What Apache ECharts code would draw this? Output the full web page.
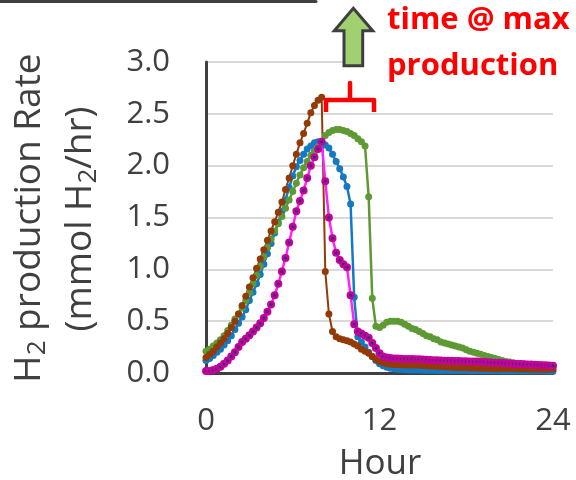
<!DOCTYPE html>
<html>
<head>
<meta charset="utf-8">
<script src="https://cdn.jsdelivr.net/npm/echarts@6/dist/echarts.min.js"></script>
<style>html,body{margin:0;padding:0;background:#fff}#c{width:576px;height:480px}</style>
</head>
<body>
<div id="c"></div>
<script>
const hours = [0,0.25,0.5,0.75,1,1.25,1.5,1.75,2,2.25,2.5,2.75,3,3.25,3.5,3.75,4,4.25,4.5,4.75,5,5.25,5.5,5.75,6,6.25,6.5,6.75,7,7.25,7.5,7.75,8,8.25,8.5,8.75,9,9.25,9.5,9.75,10,10.25,10.5,10.75,11,11.25,11.5,11.75,12,12.25,12.5,12.75,13,13.25,13.5,13.75,14,14.25,14.5,14.75,15,15.25,15.5,15.75,16,16.25,16.5,16.75,17,17.25,17.5,17.75,18,18.25,18.5,18.75,19,19.25,19.5,19.75,20,20.25,20.5,20.75,21,21.25,21.5,21.75,22,22.25,22.5,22.75,23,23.25,23.5,23.75,24];

const blueSeries = [0.12,0.14,0.17,0.20,0.23,0.27,0.31,0.36,0.42,
0.48,0.54,0.61,0.70,0.78,0.86,0.95,1.05,
1.15,1.25,1.35,1.45,1.56,1.67,1.79,1.90,
1.99,2.05,2.11,2.16,2.19,2.22,2.23,2.22,
2.20,2.17,2.11,2.04,1.97,1.89,1.80,1.63,
0.73,0.35,0.30,0.25,0.20,0.16,0.12,0.09,
0.07,0.055,0.045,0.04,0.035,0.033,0.031,0.03,
0.029,0.028,0.028,0.027,0.027,0.026,0.026,0.025,
0.025,0.025,0.024,0.024,0.024,0.023,0.023,0.023,
0.022,0.022,0.022,0.022,0.021,0.021,0.021,0.021,
0.021,0.02,0.02,0.02,0.02,0.02,0.02,0.02,
0.02,0.02,0.019,0.019,0.019,0.019,0.018,0.018];

const greenSeries = [0.21,0.23,0.26,0.29,0.32,0.36,0.41,0.46,0.52,
0.57,0.63,0.70,0.78,0.86,0.94,1.03,1.12,
1.21,1.29,1.37,1.44,1.51,1.59,1.67,1.75,
1.83,1.91,1.98,2.04,2.10,2.14,2.18,2.23,
2.29,2.32,2.34,2.35,2.35,2.34,2.33,2.31,
2.29,2.26,2.23,2.19,1.70,0.72,0.45,0.44,
0.46,0.49,0.50,0.50,0.50,0.49,0.47,0.45,
0.43,0.42,0.40,0.38,0.36,0.35,0.33,0.32,
0.30,0.29,0.28,0.27,0.26,0.25,0.24,0.225,
0.21,0.20,0.19,0.18,0.17,0.16,0.15,0.14,
0.13,0.12,0.11,0.105,0.10,0.095,0.09,0.088,
0.085,0.082,0.08,0.078,0.076,0.074,0.072,0.07];

const brownSeries = [0.15,0.18,0.21,0.25,0.29,0.33,0.38,0.44,0.50,
0.57,0.65,0.74,0.83,0.92,1.01,1.10,1.19,
1.28,1.37,1.46,1.55,1.65,1.77,1.88,2.00,
2.11,2.22,2.31,2.41,2.51,2.58,2.63,2.66,
0.98,0.57,0.40,0.35,0.33,0.32,0.31,0.30,
0.28,0.26,0.23,0.21,0.19,0.16,0.13,0.11,
0.10,0.09,0.085,0.082,0.08,0.079,0.078,0.077,
0.076,0.075,0.074,0.072,0.07,0.068,0.066,0.064,
0.062,0.06,0.058,0.056,0.054,0.052,0.051,0.05,
0.049,0.048,0.047,0.046,0.045,0.044,0.043,0.042,
0.042,0.041,0.041,0.04,0.04,0.039,0.039,0.038,
0.038,0.037,0.037,0.036,0.036,0.036,0.035,0.035];

const magentaSeries = [0.02,0.02,0.03,0.04,0.06,0.09,0.12,0.16,0.20,
0.25,0.30,0.33,0.365,0.40,0.44,0.48,0.53,
0.59,0.66,0.75,0.86,0.98,1.11,1.26,1.41,
1.56,1.66,1.76,1.88,2.00,2.08,2.16,2.23,
1.85,1.50,1.30,1.16,1.09,1.05,1.02,0.75,
0.47,0.40,0.38,0.36,0.34,0.29,0.24,0.19,
0.16,0.15,0.145,0.14,0.14,0.138,0.136,0.135,
0.134,0.133,0.132,0.13,0.128,0.126,0.124,0.122,
0.12,0.119,0.118,0.117,0.116,0.115,0.114,0.113,
0.112,0.111,0.11,0.108,0.106,0.104,0.102,0.10,
0.098,0.096,0.094,0.092,0.09,0.088,0.086,0.085,
0.083,0.081,0.079,0.077,0.075,0.074,0.072,0.07];

const xTicks = [0, 12, 24];
const yTicks = [0.0, 0.5, 1.0, 1.5, 2.0, 2.5, 3.0];

const FONT = '"Open Sans", sans-serif';
const TXT = '#404040';

function pairs(vals){ return hours.map((h,i)=>[h, vals[i]]); }

const chart = echarts.init(document.getElementById('c'), null, {renderer:'canvas'});

function mk(name, vals, lineColor, itemStyle, size, lw){
  return {
    name, type:'line', data: pairs(vals), symbol:'circle', symbolSize:size,
    showSymbol:true, showAllSymbol:true, animation:false,
    lineStyle:{color:lineColor, width:lw}, itemStyle, emphasis:{disabled:true}
  };
}

chart.setOption({
  animation:false,
  grid:{left:206, right:23, top:62, bottom:107, containLabel:false},
  xAxis:{
    type:'value', min:xTicks[0], max:xTicks[xTicks.length-1], interval:12,
    axisLine:{show:true, onZero:false, lineStyle:{color:'#404040', width:3}},
    axisTick:{show:false}, splitLine:{show:false},
    axisLabel:{fontSize:31, fontFamily:FONT, color:TXT, margin:33}
  },
  yAxis:{
    type:'value', min:yTicks[0], max:yTicks[yTicks.length-1], interval:0.5,
    axisLine:{show:true, lineStyle:{color:'#404040', width:3}},
    axisTick:{show:false},
    splitLine:{show:true, lineStyle:{color:'#d9d9d9', width:2}},
    axisLabel:{fontSize:31, fontFamily:FONT, color:TXT, margin:36, formatter:v=>v.toFixed(1)}
  },
  series:[
    mk('blue', blueSeries, '#1479c2', {color:'#1479c2'}, 7, 2.5),
    mk('green', greenSeries, '#5e9a34', {color:'#5e9a34'}, 7, 2.5),
    mk('brown', brownSeries, '#933a06', {color:'#933a06'}, 7, 2),
    mk('magenta', magentaSeries, '#ff22ff', {color:'#1f3c78', borderColor:'#c8009a', borderWidth:2.5}, 5.5, 2.5)
  ],
  graphic:[
    {type:'rect', z:10, shape:{x:364, y:0, width:212, height:86}, style:{fill:'#ffffff'}},
    {type:'line', z:10, shape:{x1:0,y1:1.5,x2:316,y2:1.5}, style:{stroke:'#404040', lineWidth:3, lineCap:'round'}},
    {type:'polygon', z:11, shape:{points:[[353.3,8.3],[372.7,30.7],[362.7,30.7],[362.7,65.7],[344,65.7],[344,30.7],[334.3,30.7]]},
      style:{fill:'#a0d070', stroke:'#3f3f3f', lineWidth:3}},
    {type:'polyline', z:11, shape:{points:[[326,112],[326,100],[350,100],[350,83],[350,100],[374,100],[374,112]]},
      style:{stroke:'#ff0000', lineWidth:4.5, lineJoin:'round', fill:null}},
    {type:'text', z:11, x:387, y:20, style:{text:'time @ max', font:'bold 31px "Open Sans", sans-serif', fill:'#ff0000', align:'left', verticalAlign:'middle'}},
    {type:'text', z:11, x:387, y:66, style:{text:'production', font:'bold 31px "Open Sans", sans-serif', fill:'#ff0000', align:'left', verticalAlign:'middle'}},
    {type:'text', z:10, x:380, y:464, style:{text:'Hour', font:'35px "Open Sans", sans-serif', fill:TXT, align:'center', verticalAlign:'middle'}},
    {type:'text', z:10, x:29, y:218, rotation:Math.PI/2, style:{
      text:'{a|H}{s|2}{a| production Rate}', align:'center', verticalAlign:'middle',
      rich:{a:{fontSize:37, fontFamily:FONT, fill:TXT, lineHeight:44}, s:{fontSize:26, fontFamily:FONT, fill:TXT, lineHeight:16, verticalAlign:'bottom'}}
    }},
    {type:'text', z:10, x:80, y:219, rotation:Math.PI/2, style:{
      text:'{a|(mmol H}{s|2}{a|/hr)}', align:'center', verticalAlign:'middle',
      rich:{a:{fontSize:37, fontFamily:FONT, fill:TXT, lineHeight:44}, s:{fontSize:26, fontFamily:FONT, fill:TXT, lineHeight:16, verticalAlign:'bottom'}}
    }}
  ]
});
</script>
</body>
</html>
